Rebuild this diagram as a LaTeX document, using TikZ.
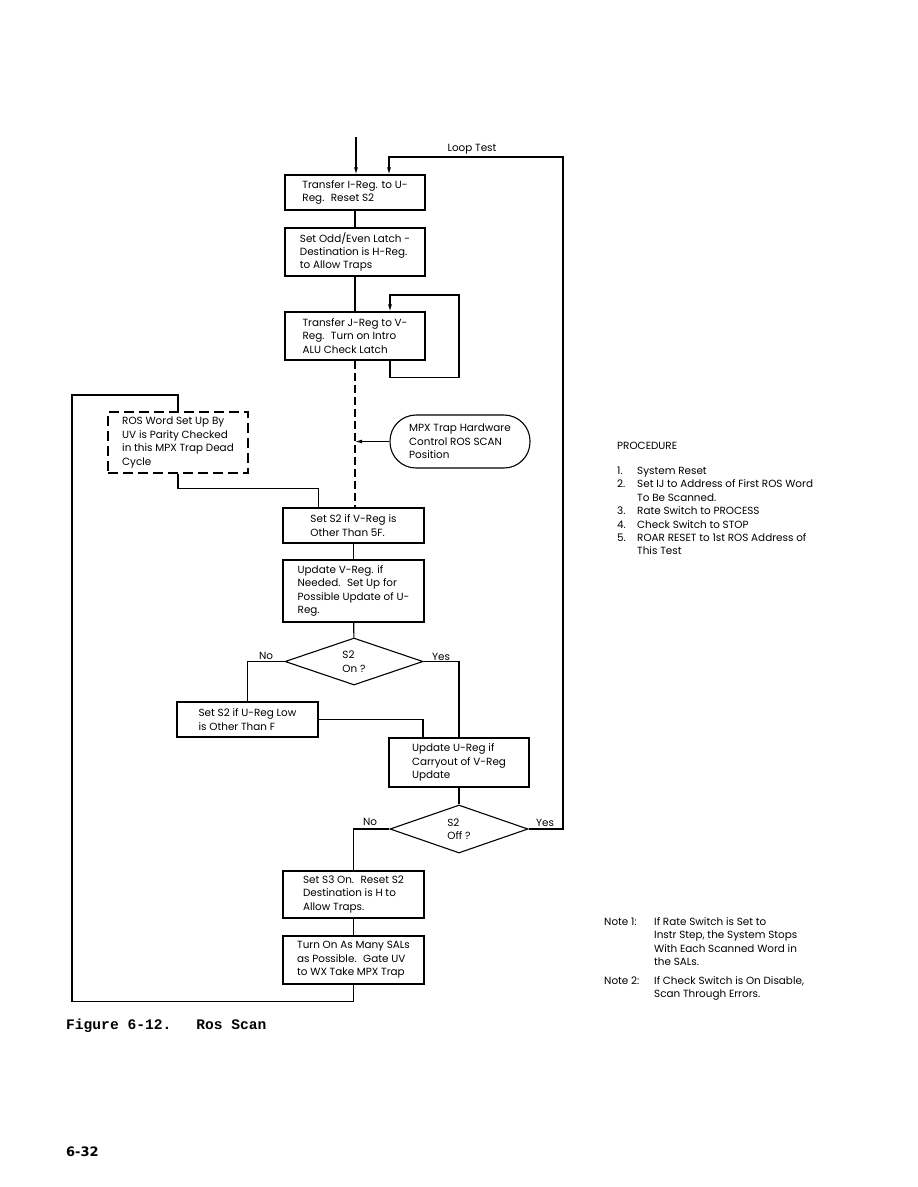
\documentclass[tikz,border=0pt]{standalone}
\usepackage{fontspec}
\setmainfont{Poppins}
\newfontfamily\capfont{Liberation Mono}
\newfontfamily\pgfont{DejaVu Sans}
\usetikzlibrary{shapes.geometric,arrows.meta}
\begin{document}
\begin{tikzpicture}[x=1pt,y=-1pt,
  every node/.style={font=\fontsize{10.4}{13.4}\selectfont, inner sep=0pt},
  box/.style={draw, line width=1.1pt, align=left},
  dbox/.style={box, dash pattern=on 10pt off 5pt},
  dia/.style={draw, line width=1.1pt, diamond, align=left, aspect=3},
  ln/.style={line width=1.1pt},
  arr/.style={ln, -{Latex[length=7pt,width=4pt]}},
  lbl/.style={},
]
\useasboundingbox (0,0) rectangle (918,1187);
% boxes
\node[box, minimum width=140pt, minimum height=35pt] (b1) at (355,192.5) {Transfer I-Reg. to U-\\Reg. \ Reset S2};
\node[box, minimum width=140pt, minimum height=48pt] (b2) at (355,252) {Set Odd/Even Latch -\\Destination is H-Reg.\\to Allow Traps};
\node[box, minimum width=140pt, minimum height=48pt] (b3) at (355,336) {Transfer J-Reg to V-\\Reg. \ Turn on Intro\\ALU Check Latch};
\node[dbox, minimum width=140pt, minimum height=61pt] (ros) at (178,442.5) {ROS Word Set Up By\\UV is Parity Checked\\in this MPX Trap Dead\\Cycle};
\node[box, rounded corners=26pt, minimum width=140pt, minimum height=53pt] (mpx) at (460,441.5) {MPX Trap Hardware\\Control ROS SCAN\\Position};
\node[box, minimum width=141pt, minimum height=35pt] (s2v) at (353.5,525.5) {Set S2 if V-Reg is\\Other Than 5F.};
\node[box, minimum width=141pt, minimum height=62pt] (uv) at (353.5,591) {Update V-Reg. if\\Needed. \ Set Up for\\Possible Update of U-\\Reg.};
\node[dia, minimum width=138pt, minimum height=47pt] (d1) at (354,661.5) {S2\\On ?};
\node[box, minimum width=141pt, minimum height=35pt] (s2u) at (247.5,719.5) {Set S2 if U-Reg Low\\is Other Than F};
\node[box, minimum width=140pt, minimum height=49pt] (uu) at (459,762.5) {Update U-Reg if\\Carryout of V-Reg\\Update};
\node[dia, minimum width=138pt, minimum height=48pt] (d2) at (459,829) {S2\\Off ?};
\node[box, minimum width=141pt, minimum height=47pt] (s3) at (353.5,894.5) {Set S3 On. \ Reset S2\\Destination is H to\\Allow Traps.};
\node[box, minimum width=141pt, minimum height=48pt] (t2) at (353.5,960) {Turn On As Many SALs\\as Possible. \ Gate UV\\to WX Take MPX Trap};
% labels
\node[lbl] (looplbl) at (472,149) {Loop Test};
\node[lbl] (no1) at (266,656) {No};
\node[lbl] (yes1) at (441,657) {Yes};
\node[lbl] (no2) at (370,822) {No};
\node[lbl] (yes2) at (545,823) {Yes};
% connectors
\coordinate (entry) at (356,137);
\draw[arr] (entry) -- (entry |- b1.north);
\coordinate (lt) at (563,157);
\draw[arr] (d2.east) -| (lt) -| ([xshift=34pt]b1.north);
\draw[ln] (b1) -- (b2);
\draw[ln] (b2) -- (b3);
\coordinate (lp) at (459,295);
\draw[arr] ([xshift=35pt]b3.south) -- ++(0,17) -| (lp) -| ([xshift=35pt]b3.north);
\draw[ln, dash pattern=on 8pt off 4pt] (b3.south) -- (b3.south |- s2v.north);
\coordinate (mpxin) at (b3.south |- mpx.west);
\draw[arr] (mpx.west) -- (mpxin);
\coordinate (lc) at (72,395);
\draw[ln] (t2.south) -- ++(0,17) -| (lc) -| (ros.north);
\draw[ln] (ros.south) -- ++(0,15) -| ([xshift=-35pt]s2v.north);
\draw[ln] (s2v) -- (uv);
\draw[ln] (uv) -- (d1);
\draw[ln] (d1.west) -| (s2u.north);
\draw[ln] (d1.east) -| (uu.north);
\draw[ln] (s2u.east) -| ([xshift=-36pt]uu.north);
\draw[ln] (uu) -- (d2);
\draw[ln] (d2.west) -| (s3.north);
\draw[ln] (s3) -- (t2);
% procedure
\node[anchor=west] (proc) at (617,446) {PROCEDURE};
\node[anchor=north west, align=left] (steps) at (617,465) {%
\begin{tabular}{@{}p{14pt}@{\hspace{6pt}}l@{}}
1. & System Reset\\
2. & Set IJ to Address of First ROS Word\\
   & To Be Scanned.\\
3. & Rate Switch to PROCESS\\
4. & Check Switch to STOP\\
5. & ROAR RESET to 1st ROS Address of\\
   & This Test
\end{tabular}};
\node[anchor=north west, align=left] (notes) at (604,916) {%
\begin{tabular}{@{}p{44pt}@{\hspace{6pt}}l@{}}
Note 1: & If Rate Switch is Set to\\
        & Instr Step, the System Stops\\
        & With Each Scanned Word in\\
        & the SALs.\\[5pt]
Note 2: & If Check Switch is On Disable,\\
        & Scan Through Errors.
\end{tabular}};
\node[anchor=west, font=\capfont\bfseries\fontsize{14.6}{16}\selectfont] (cap) at (66,1026) {Figure 6-12.\hspace{25pt}Ros Scan};
\node[anchor=west, font=\pgfont\bfseries\fontsize{13}{15}\selectfont] (pg) at (66,1152) {6-32};
\end{tikzpicture}
\end{document}
